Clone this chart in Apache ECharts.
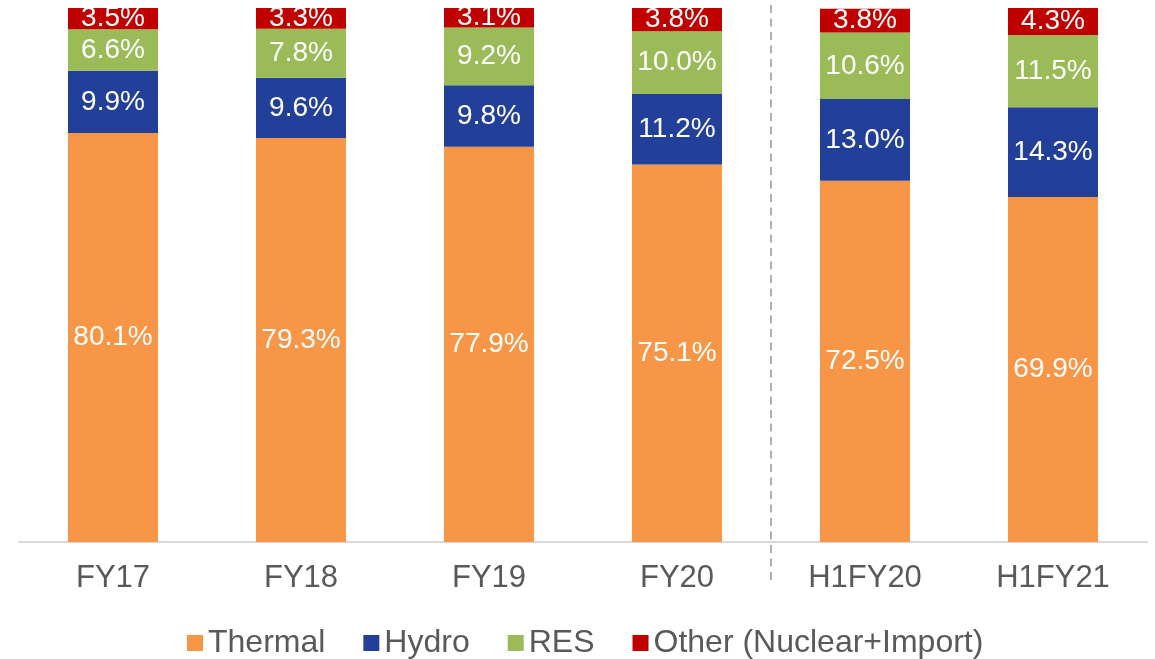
<!DOCTYPE html>
<html>
<head>
<meta charset="utf-8">
<script src="https://cdn.jsdelivr.net/npm/echarts@6/dist/echarts.min.js"></script>
<style>
  html, body { margin: 0; padding: 0; background: #fff; }
  #chart { width: 1155px; height: 659px; }
</style>
</head>
<body>
<div id="chart"></div>
<script>
    var categories = ['FY17', 'FY18', 'FY19', 'FY20', 'H1FY20', 'H1FY21'];
    var thermal = [80.1, 79.3, 77.9, 75.1, 72.5, 69.9];
    var hydro   = [9.9, 9.6, 9.8, 11.2, 13.0, 14.3];
    var res     = [6.6, 7.8, 9.2, 10.0, 10.6, 11.5];
    var other   = [3.5, 3.3, 3.1, 3.8, 3.8, 4.3];
    // axis in the source starts at 15%, bars are cut at the bottom
    var yMin = 15, yMax = 100;
    // dashed divider between yearly and half-year bars (category boundary)
    var dividerAt = 4;

    var chart = echarts.init(document.getElementById('chart'));

    var font = '"Liberation Sans", Arial, sans-serif';

    function makeSeries(name, data, color) {
        return {
            name: name,
            type: 'bar',
            stack: 'total',
            barWidth: 90,
            data: data,
            itemStyle: { color: color },
            label: {
                show: true,
                position: 'inside',
                color: '#fff',
                fontSize: 28,
                fontFamily: font,
                formatter: function (p) { return p.value.toFixed(1) + '%'; }
            }
        };
    }

    var option = {
        animation: false,
        grid: [
            { left: 19, right: 8, top: 8, bottom: 117 },
            // taller helper grid, same width, for the divider that runs past the axis
            { left: 19, right: 8, top: 0, bottom: 79 }
        ],
        legend: {
            left: 182,
            top: 622,
            itemWidth: 16,
            itemHeight: 16,
            itemGap: 38,
            icon: 'rect',
            textStyle: { fontSize: 32, color: '#595959', fontFamily: font, padding: [0, 0, 0, 0] },
            data: ['Thermal', 'Hydro', 'RES', 'Other (Nuclear+Import)']
        },
        xAxis: [{
            type: 'category',
            data: categories,
            axisLine: { lineStyle: { color: '#d9d9d9', width: 2 } },
            axisTick: { show: false },
            axisLabel: { fontSize: 31, color: '#595959', fontFamily: font, margin: 21 }
        }, {
            type: 'value',
            gridIndex: 1,
            min: 0,
            max: categories.length,
            show: false
        }],
        yAxis: [{
            type: 'value',
            min: yMin,
            max: yMax,
            show: false,
            splitLine: { show: false }
        }, {
            type: 'value',
            gridIndex: 1,
            min: 0,
            max: 1,
            show: false
        }],
        series: [
            makeSeries('Thermal', thermal, '#F79646'),
            makeSeries('Hydro', hydro, '#223F9A'),
            makeSeries('RES', res, '#9BBB59'),
            makeSeries('Other (Nuclear+Import)', other, '#C00000'),
            {
                name: 'divider',
                type: 'line',
                xAxisIndex: 1,
                yAxisIndex: 1,
                data: [],
                silent: true,
                markLine: {
                    symbol: 'none',
                    silent: true,
                    label: { show: false },
                    lineStyle: { color: '#b0b0b0', type: [8, 5.5], width: 2 },
                    data: [{ xAxis: dividerAt }]
                }
            }
        ]
    };

    chart.setOption(option);
</script>
</body>
</html>
